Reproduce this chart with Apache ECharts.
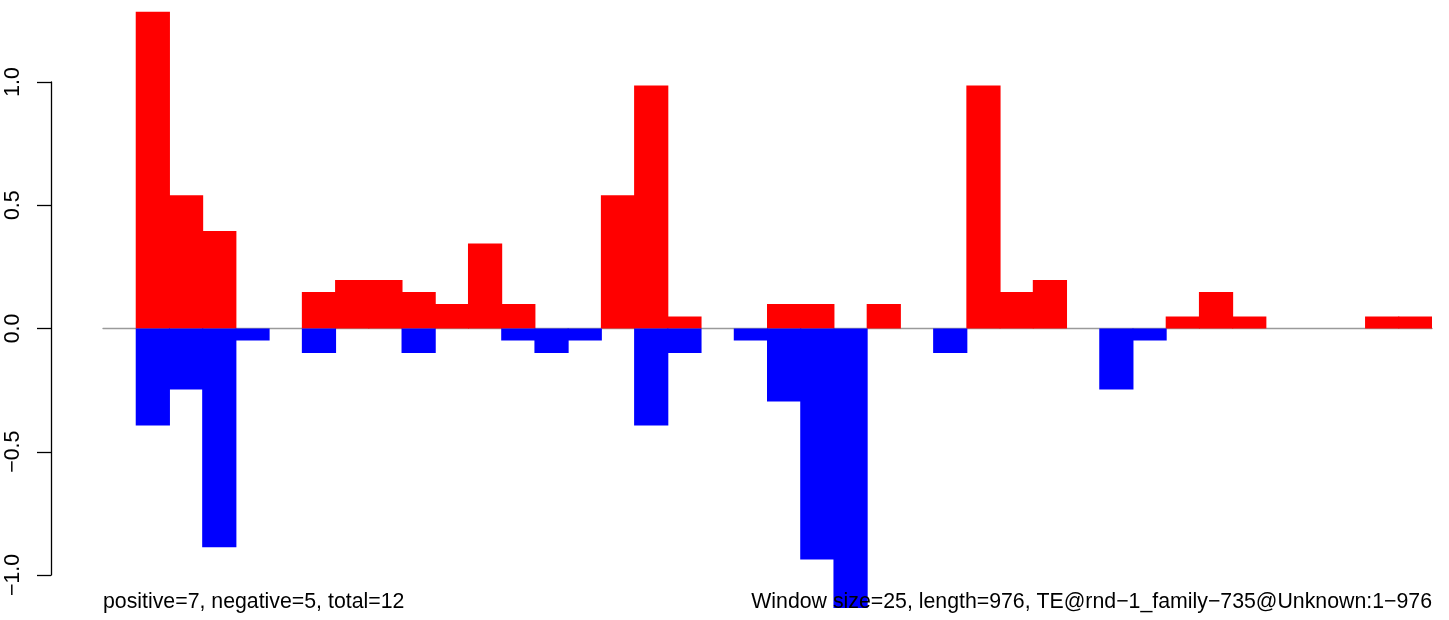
<!DOCTYPE html>
<html>
<head>
<meta charset="utf-8">
<title>TE window plot</title>
<script src="https://cdn.jsdelivr.net/npm/echarts@6.0.0/dist/echarts.min.js"></script>
<style>
	html, body { margin: 0; padding: 0; background: #fff; }
	#main { width: 1449px; height: 620px; }
</style>
</head>
<body>
<div id="main"></div>
<script>
	//------------------ data -------------
	var windows = ['0','1','2','3','4','5','6','7','8','9','10','11','12','13','14','15','16','17','18','19',
		'20','21','22','23','24','25','26','27','28','29','30','31','32','33','34','35','36','37','38','39'];
	// positive part of each window (red)
	var posValues = [0, 1.285, 0.54, 0.395, 0, 0, 0.148, 0.197, 0.197, 0.148,
		0.099, 0.345, 0.099, 0, 0, 0.54, 0.986, 0.049, 0, 0,
		0.099, 0.099, 0, 0.099, 0, 0, 0.986, 0.148, 0.197, 0,
		0, 0, 0.049, 0.148, 0.049, 0, 0, 0, 0.049, 0.049];
	// negative part of each window (blue)
	var negValues = [0, -0.394, -0.247, -0.887, -0.049, 0, -0.099, 0, 0, -0.099,
		0, 0, -0.049, -0.099, -0.049, 0, -0.394, -0.099, 0, -0.049,
		-0.296, -0.937, -1.134, 0, 0, -0.099, 0, 0, 0, 0,
		-0.247, -0.049, 0, 0, 0, 0, 0, 0, 0, 0];
	var yTicks = [-1.0, -0.5, 0.0, 0.5, 1.0];
	var leftNote = 'positive=7, negative=5, total=12';
	var rightNote = 'Window size=25, length=976, TE@rnd\u22121_family\u2212735@Unknown:1\u2212976';

	var font = '"Liberation Sans", Arial, Helvetica, sans-serif';
	var fontSize = 21.3;

	function fmt(v){
		return v.toFixed(1).replace('-', '\u2212');
	}

	// empty windows are not drawn at all
	function bars(arr){
		var out = [];
		for(var i=0;i<arr.length;i++){
			out.push(arr[i] == 0 ? '-' : arr[i]);
		}
		return out;
	}

	var myChart = echarts.init(document.getElementById('main'), null, {renderer: 'canvas'});
	var option = {
		animation: false,
		backgroundColor: '#fff',
		grid: [
			// plot region
			{left: 103, right: 17, top: 8, height: 604, outerBoundsMode: 'none', containLabel: false},
			// axis only, R draws it from first to last tick
			{left: 51, width: 10, top: 82, height: 493, outerBoundsMode: 'none', containLabel: false}
		],
		xAxis: [
			{
				type: 'category',
				gridIndex: 0,
				data: windows,
				boundaryGap: true,
				axisLine: {show: true, onZero: true, lineStyle: {color: '#9a9a9a', width: 1.3}},
				axisTick: {show: false},
				axisLabel: {show: false},
				splitLine: {show: false}
			},
			{type: 'value', gridIndex: 1, min: 0, max: 1, show: false}
		],
		yAxis: [
			{type: 'value', gridIndex: 0, min: -1.15, max: 1.3, show: false},
			{
				type: 'value',
				gridIndex: 1,
				min: yTicks[0],
				max: yTicks[yTicks.length - 1],
				interval: 0.5,
				axisLine: {show: true, lineStyle: {color: '#000', width: 1.3}},
				axisTick: {show: true, length: 14, lineStyle: {color: '#000', width: 1.3}},
				axisLabel: {
					rotate: 90,
					margin: 27,
					showMinLabel: true,
					showMaxLabel: true,
					color: '#000',
					fontSize: fontSize,
					fontFamily: font,
					formatter: fmt
				},
				splitLine: {show: false}
			}
		],
		series: [
			{
				name: 'positive',
				type: 'bar',
				xAxisIndex: 0,
				yAxisIndex: 0,
				data: bars(posValues),
				barWidth: '103%', // slight overlap so neighbouring bars show no seam
				barGap: '-100%',
				itemStyle: {color: '#ff0000'}
			},
			{
				name: 'negative',
				type: 'bar',
				xAxisIndex: 0,
				yAxisIndex: 0,
				data: bars(negValues),
				barWidth: '103%',
				barGap: '-100%',
				itemStyle: {color: '#0000ff'}
			}
		],
		graphic: [
			{
				type: 'text',
				left: 103,
				top: 592,
				z: 100,
				style: {text: leftNote, fill: '#000', font: fontSize + 'px ' + font}
			},
			{
				type: 'text',
				right: 17,
				top: 592,
				z: 100,
				style: {text: rightNote, fill: '#000', font: fontSize + 'px ' + font}
			}
		]
	};
	myChart.setOption(option);
</script>
</body>
</html>
